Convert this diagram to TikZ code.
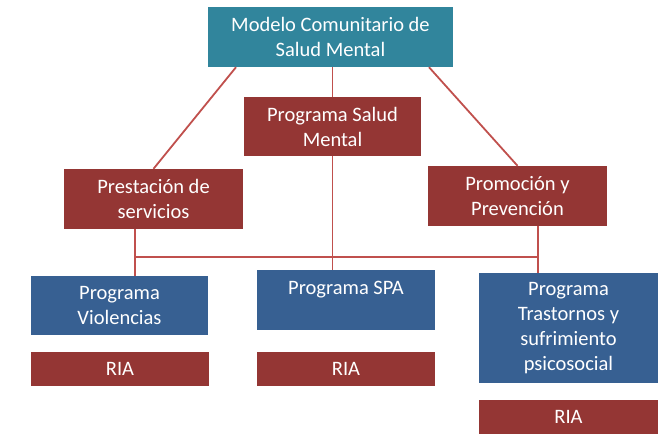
\documentclass[tikz,border=0pt]{standalone}
\usepackage{fontspec}
\setmainfont{Carlito}
\definecolor{teal1}{HTML}{31859C}
\definecolor{red1}{HTML}{943634}
\definecolor{blue1}{HTML}{376092}
\definecolor{line1}{HTML}{C0504D}
\begin{document}
\begin{tikzpicture}[x=1pt,y=-1pt,
  box/.style={rectangle,inner sep=0pt,text=white,align=center,
    font=\fontsize{20.5}{25}\selectfont},
  tealbox/.style={box,fill=teal1},
  redbox/.style={box,fill=red1},
  bluebox/.style={box,fill=blue1},
  conn/.style={draw=line1,line width=1.8pt}]
\useasboundingbox (0,0) rectangle (671,442);
\node[tealbox,minimum width=245pt,minimum height=60pt] (top) at (330.5,37) {Modelo Comunitario de\\Salud Mental};
\node[redbox,minimum width=177pt,minimum height=59pt] (psm) at (332.5,126.5) {Programa Salud\\Mental};
\node[redbox,minimum width=179pt,minimum height=60pt] (pres) at (153.5,199) {Prestación de\\servicios};
\node[redbox,minimum width=179pt,minimum height=60pt] (prom) at (517.5,196) {Promoción y\\Prevención};
\node[bluebox,minimum width=177pt,minimum height=59pt] (viol) at (119.5,305.5) {Programa\\Violencias};
\node[bluebox,minimum width=178pt,minimum height=60pt] (spa) at (346,300) {Programa SPA\\\mbox{}};
\node[bluebox,minimum width=179pt,minimum height=110pt] (tras) at (568.5,328) {Programa\\Trastornos y\\sufrimiento\\psicosocial};
\node[redbox,minimum width=178pt,minimum height=34pt] (ria1) at (120,369) {RIA};
\node[redbox,minimum width=178pt,minimum height=34pt] (ria2) at (346,369) {RIA};
\node[redbox,minimum width=179pt,minimum height=34pt] (ria3) at (568.5,417) {RIA};
\coordinate (jL) at (135,257);
\coordinate (jR) at (538,257);
\draw[conn] ([xshift=-94.5pt]top.south) -- (pres.north);
\draw[conn] ([xshift=98.5pt]top.south) -- (prom.north);
\draw[conn] (psm.north |- top.south) -- (psm.north);
\draw[conn] (psm.south) -- (psm.south |- spa.north);
\draw[conn] ([xshift=-18.5pt]pres.south) -- ([xshift=15.5pt]viol.north);
\draw[conn] ([xshift=20.5pt]prom.south) -- ([xshift=-30.5pt]tras.north);
\draw[conn] (jL) -- (jR);
\end{tikzpicture}
\end{document}
